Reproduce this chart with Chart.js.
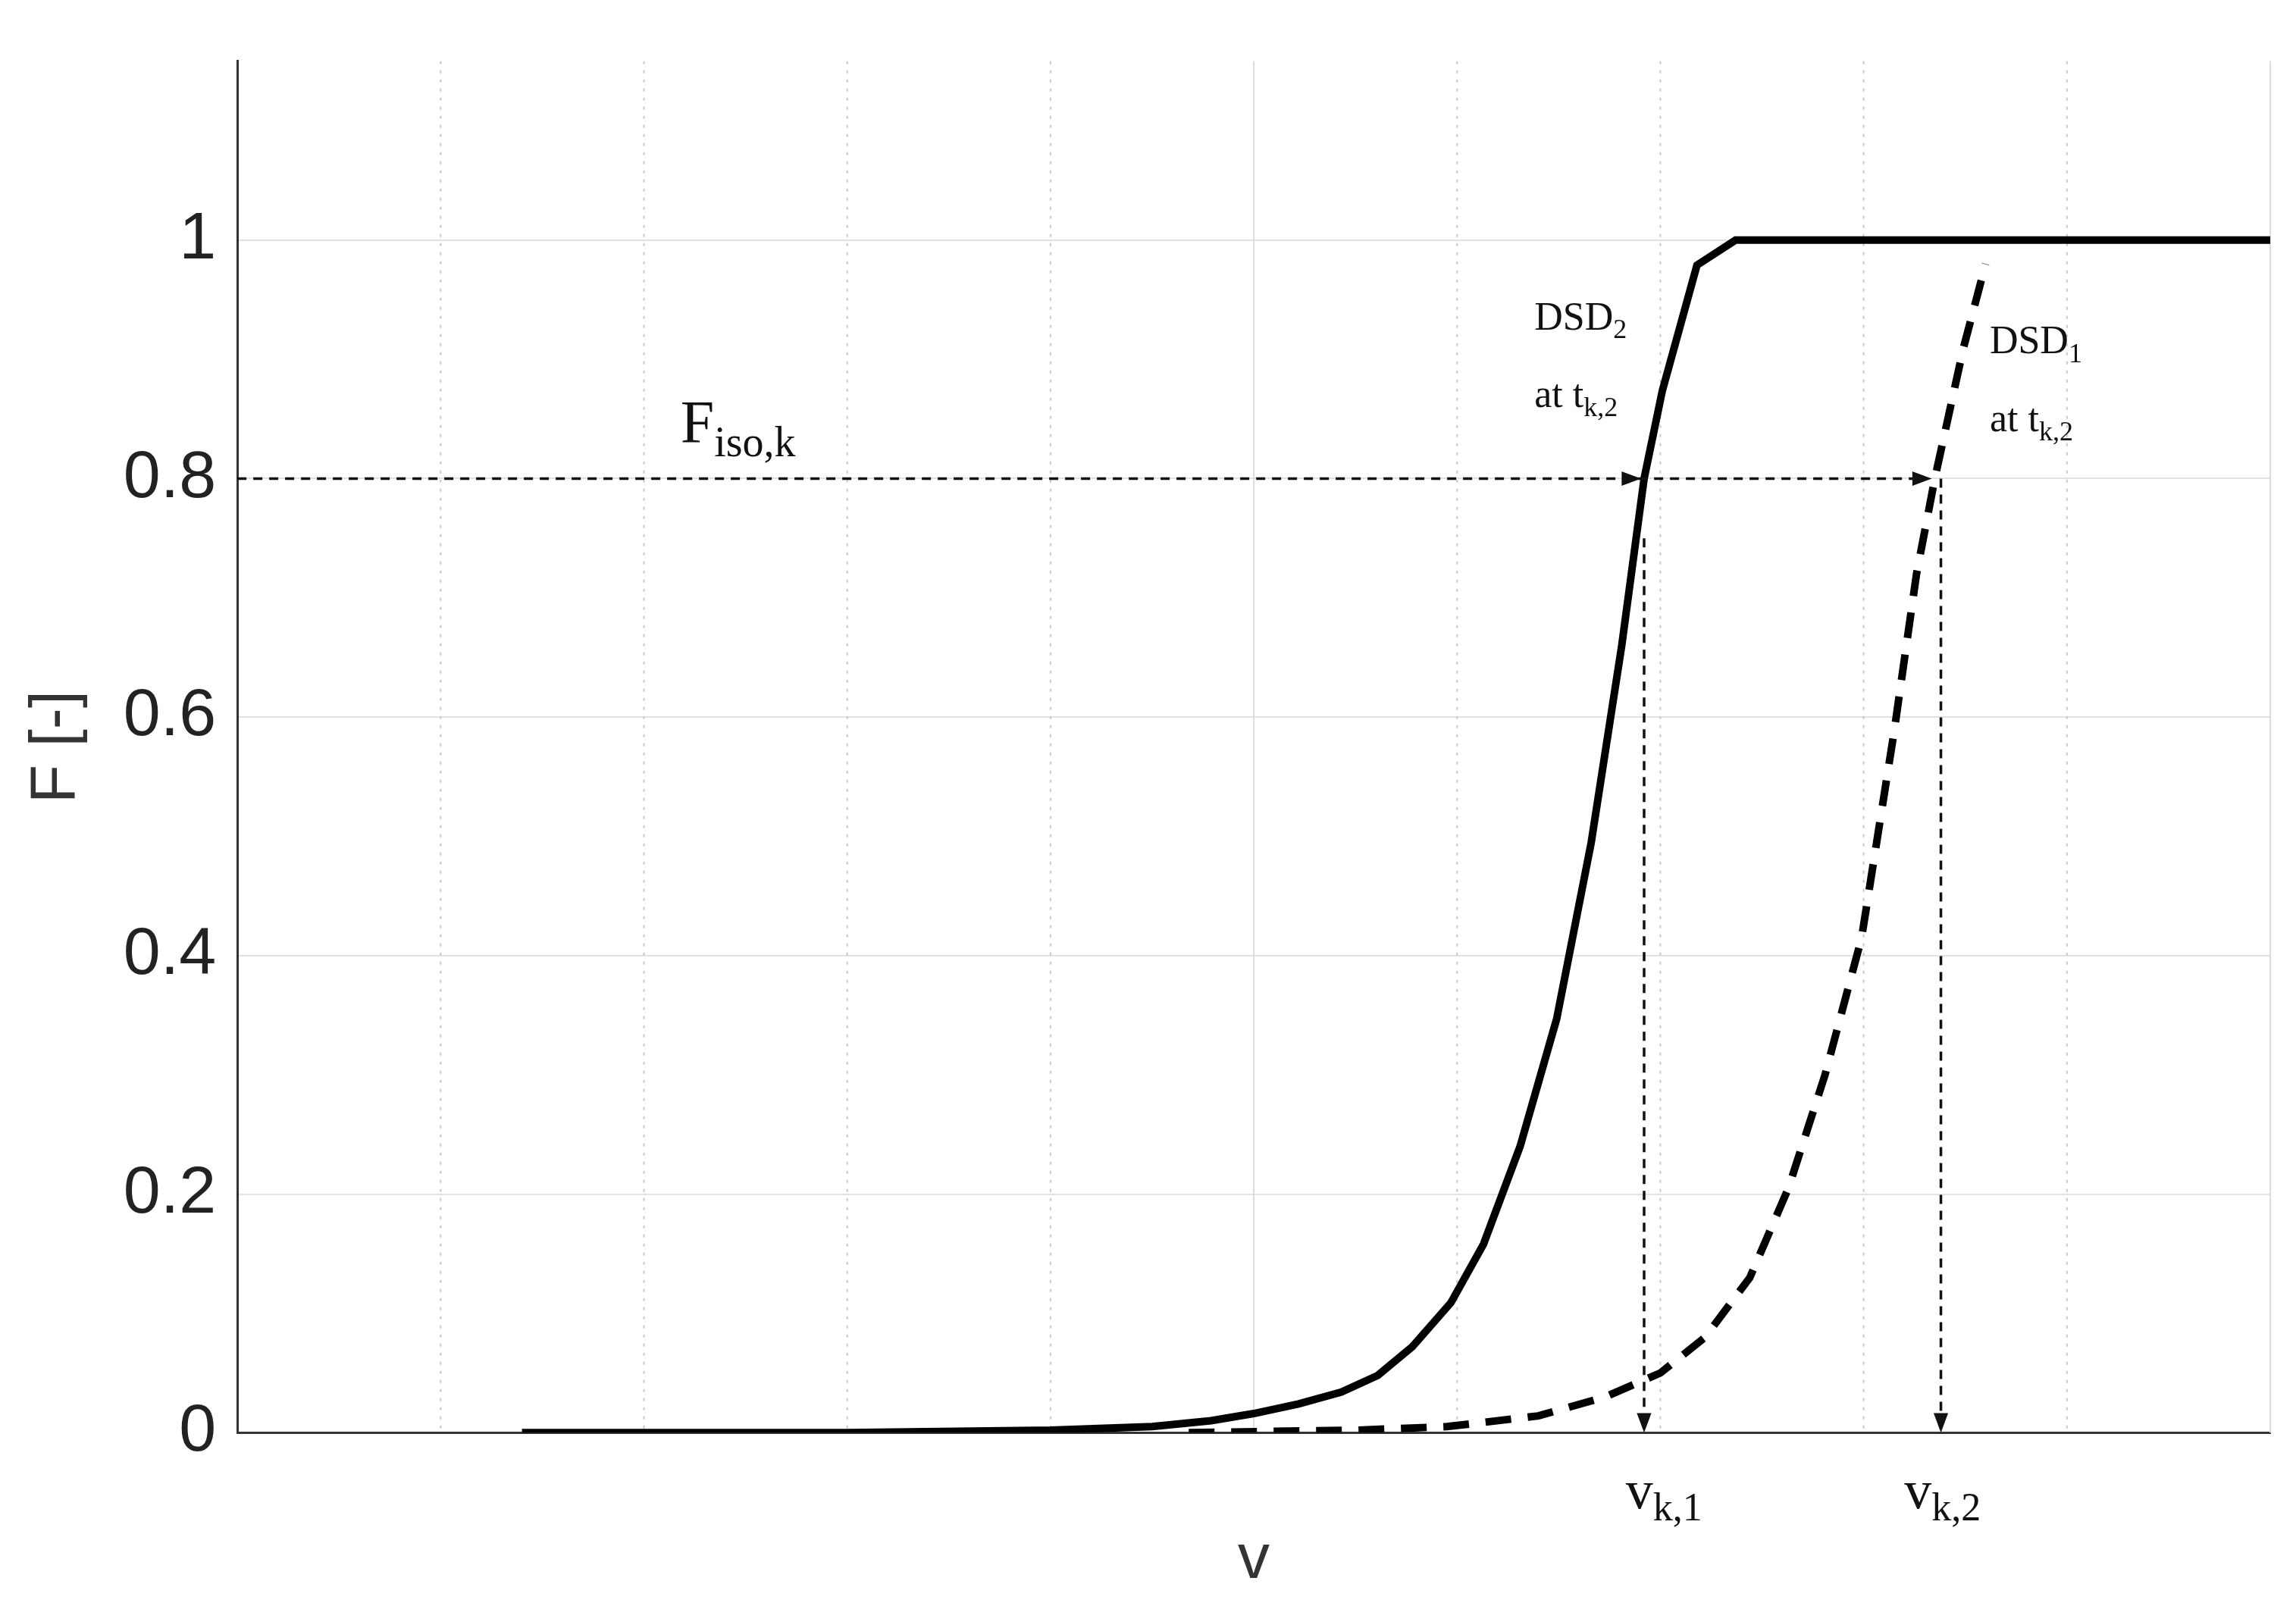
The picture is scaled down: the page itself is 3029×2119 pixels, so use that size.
<!DOCTYPE html>
<html>
<head>
<meta charset="utf-8">
<script src="https://cdn.jsdelivr.net/npm/chart.js@4"></script>
<style>
  html, body { margin: 0; padding: 0; background: #fff; }
</style>
</head>
<body>
<canvas id="cdf" width="3029" height="2119"></canvas>
<script>
// solid curve: DSD2 at t_k,2
var xSolid = [1.4, 3.0, 4.0, 4.5, 4.79, 5.0, 5.22, 5.43, 5.61, 5.78, 5.97, 6.13, 6.31, 6.49, 6.66, 6.81, 6.92, 7.01, 7.18, 7.37, 8.5, 10.0];
var ySolid = [0.0, 0.0, 0.002, 0.005, 0.01, 0.016, 0.024, 0.034, 0.048, 0.072, 0.109, 0.158, 0.24, 0.347, 0.495, 0.66, 0.8, 0.874, 0.979, 1.0, 1.0, 1.0];
// dashed curve: DSD1 at t_k,2
var xDashed = [4.68, 5.5, 5.95, 6.4, 6.73, 7.0, 7.22, 7.44, 7.63, 7.81, 7.99, 8.15, 8.26, 8.35, 8.49, 8.6];
var yDashed = [0.0, 0.002, 0.005, 0.014, 0.03, 0.05, 0.08, 0.13, 0.205, 0.30, 0.415, 0.588, 0.72, 0.8, 0.909, 0.98];
var yTicks = [0, 0.2, 0.4, 0.6, 0.8, 1];
var fIso = 0.8;
var vk1 = 6.92, vk2 = 8.35;

function pts(xs, ys) { return xs.map(function (x, i) { return { x: x, y: ys[i] }; }); }

function arrowHead(ctx, x, y, dir) {
  var s = 16;
  ctx.beginPath();
  if (dir === 'right') { ctx.moveTo(x, y); ctx.lineTo(x - s * 1.6, y - s * 0.6); ctx.lineTo(x - s * 1.6, y + s * 0.6); }
  else { ctx.moveTo(x, y); ctx.lineTo(x - s * 0.6, y - s * 1.6); ctx.lineTo(x + s * 0.6, y - s * 1.6); }
  ctx.closePath();
  ctx.fill();
}

function subText(ctx, x, y, main, sub, big, small) {
  ctx.font = big + 'px "Liberation Serif"';
  ctx.fillText(main, x, y);
  var w = ctx.measureText(main).width;
  ctx.font = small + 'px "Liberation Serif"';
  ctx.fillText(sub, x + w, y + big * 0.22);
}

var xGrid = {
  id: 'xGrid',
  beforeDatasetsDraw: function (chart) {
    var ctx = chart.ctx, xs = chart.scales.x, a = chart.chartArea;
    ctx.save();
    for (var v = 1; v <= 10; v++) {
      var px = xs.getPixelForValue(v);
      ctx.strokeStyle = v % 5 === 0 ? '#dcdcdc' : '#c8c8c8';
      ctx.lineWidth = 2;
      ctx.setLineDash(v % 5 === 0 ? [] : [4, 8]);
      ctx.beginPath(); ctx.moveTo(px, a.top); ctx.lineTo(px, a.bottom); ctx.stroke();
    }
    ctx.restore();
  }
};

var notes = {
  id: 'notes',
  afterDatasetsDraw: function (chart) {
    var ctx = chart.ctx, xs = chart.scales.x, ys = chart.scales.y;
    var X = function (v) { return xs.getPixelForValue(v); };
    var Y = function (v) { return ys.getPixelForValue(v); };
    ctx.save();
    ctx.strokeStyle = '#111'; ctx.fillStyle = '#111';
    ctx.lineWidth = 3.5; ctx.setLineDash([12, 9]);
    ctx.beginPath();
    ctx.moveTo(X(0), Y(fIso)); ctx.lineTo(X(vk2) - 20, Y(fIso));
    ctx.moveTo(X(vk1), Y(0.75)); ctx.lineTo(X(vk1), Y(0) - 20);
    ctx.moveTo(X(vk2 + 0.03), Y(fIso)); ctx.lineTo(X(vk2 + 0.03), Y(0) - 20);
    ctx.stroke();
    ctx.setLineDash([]);
    arrowHead(ctx, X(vk1) - 4, Y(fIso), 'right');
    arrowHead(ctx, X(vk2) - 4, Y(fIso), 'right');
    arrowHead(ctx, X(vk1), Y(0), 'down');
    arrowHead(ctx, X(vk2 + 0.03), Y(0), 'down');

    ctx.textBaseline = 'alphabetic';
    subText(ctx, X(2.18), Y(0.83), 'F', 'iso,k', 80, 56);
    subText(ctx, X(6.38), Y(0.925), 'DSD', '2', 52, 36);
    ctx.font = '52px "Liberation Serif"'; ctx.fillText('at t', X(6.38), Y(0.86));
    var w = ctx.measureText('at t').width;
    ctx.font = '36px "Liberation Serif"'; ctx.fillText('k,2', X(6.38) + w, Y(0.86) + 12);
    subText(ctx, X(8.62), Y(0.905), 'DSD', '1', 52, 36);
    ctx.font = '52px "Liberation Serif"'; ctx.fillText('at t', X(8.62), Y(0.84));
    w = ctx.measureText('at t').width;
    ctx.font = '36px "Liberation Serif"'; ctx.fillText('k,2', X(8.62) + w, Y(0.84) + 12);
    subText(ctx, X(6.83), Y(0) + 100, 'v', 'k,1', 72, 52);
    subText(ctx, X(8.2), Y(0) + 100, 'v', 'k,2', 72, 52);
    ctx.restore();
  }
};

new Chart(document.getElementById('cdf'), {
  type: 'scatter',
  data: {
    datasets: [
      { data: pts(xSolid, ySolid), showLine: true, borderColor: '#000', borderWidth: 10, pointRadius: 0, tension: 0 },
      { data: pts(xDashed, yDashed), showLine: true, borderColor: '#000', borderWidth: 10, borderDash: [34, 22], pointRadius: 0, tension: 0 }
    ]
  },
  options: {
    responsive: false,
    animation: false,
    devicePixelRatio: 1,
    layout: { padding: { top: 58, right: 34, left: 20, bottom: 10 } },
    plugins: { legend: { display: false }, tooltip: { enabled: false } },
    scales: {
      x: {
        type: 'linear', min: 0, max: 10,
        ticks: { display: false },
        grid: { display: false },
        border: { color: '#333', width: 3 },
        title: { display: true, text: 'v', color: '#333', font: { family: 'Liberation Sans', size: 84 }, padding: { top: 110, bottom: 0 } }
      },
      y: {
        min: 0, max: 1.15,
        afterBuildTicks: function (axis) { axis.ticks = yTicks.map(function (v) { return { value: v }; }); },
        ticks: { color: '#222', font: { family: 'Liberation Sans', size: 88 }, padding: 28,
          callback: function (v) { return String(Math.round(v * 10) / 10); } },
        grid: { color: '#e2e2e2', lineWidth: 2, drawTicks: false },
        border: { color: '#333', width: 3 },
        title: { display: true, text: 'F [-]', color: '#333', font: { family: 'Liberation Sans', size: 84 }, padding: { bottom: 10 } }
      }
    }
  },
  plugins: [xGrid, notes]
});
</script>
</body>
</html>
